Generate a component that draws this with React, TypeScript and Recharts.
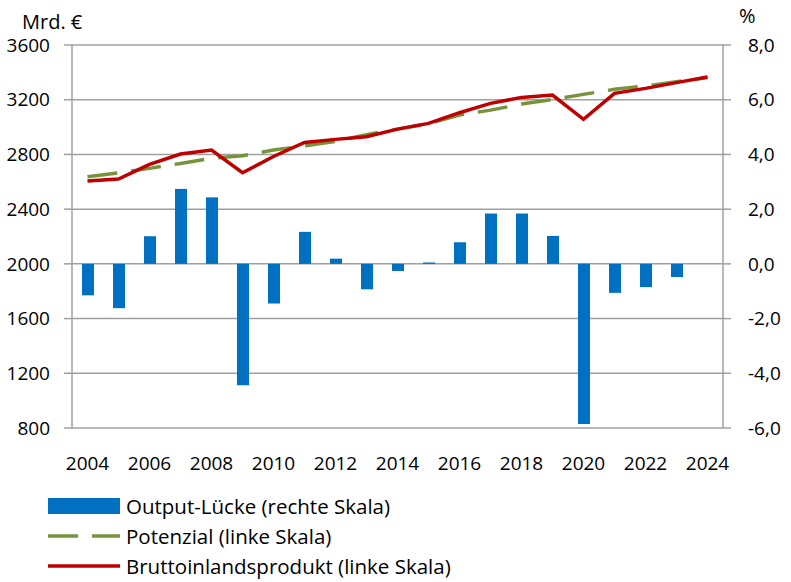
import React from 'react'
import {
  ComposedChart, Bar, Line, XAxis, YAxis, CartesianGrid,
} from 'recharts'

// ── Data ─────────────────────────────────────────────────────────────────────

const YEARS = [
  '2004', '2005', '2006', '2007', '2008', '2009', '2010', '2011', '2012', '2013',
  '2014', '2015', '2016', '2017', '2018', '2019', '2020', '2021', '2022', '2023', '2024',
]

// Output-Lücke in % (rechte Skala)
const OUTPUT_GAP = [
  -1.15, -1.62, 1.01, 2.74, 2.43, -4.44, -1.45, 1.17, 0.19, -0.93,
  -0.26, 0.05, 0.79, 1.84, 1.84, 1.02, -5.85, -1.06, -0.85, -0.48, null,
]

// Potenzial in Mrd. € (linke Skala)
const POTENZIAL = [
  2637, 2666, 2698, 2734, 2771, 2790, 2832, 2863, 2895, 2945,
  2985, 3025, 3088, 3124, 3168, 3202, 3239, 3276, 3300, 3331, 3363,
]

// Bruttoinlandsprodukt in Mrd. € (linke Skala)
const BIP = [
  2605, 2620, 2727, 2803, 2832, 2666, 2785, 2888, 2910, 2929,
  2985, 3027, 3105, 3173, 3217, 3234, 3057, 3247, 3283, 3325, 3366,
]

const LEFT_TICKS = [800, 1200, 1600, 2000, 2400, 2800, 3200, 3600]
const RIGHT_TICKS = [-6, -4, -2, 0, 2, 4, 6, 8]

const data = YEARS.map((year, i) => ({
  year,
  gap: OUTPUT_GAP[i],
  pot: POTENZIAL[i],
  bip: BIP[i],
}))

// category boundaries for the Excel-style tick marks between the years
const EDGES = Array.from({ length: YEARS.length + 1 }, (_, i) => i)

// ── Style ────────────────────────────────────────────────────────────────────

const FONT = '"Open Sans", "Liberation Sans", sans-serif'
const BLUE = '#0070C0'
const GREEN = '#77933C'
const RED = '#C00000'
const GRID = '#A0A0A0'
const TICK = { fill: '#000', fontSize: 19, fontFamily: FONT } as const
const AXIS_LINE = { stroke: GRID, strokeWidth: 1.5 } as const

const fmtPct = (v: number) => v.toFixed(1).replace('.', ',')

// right-hand labels are left aligned, as in the original
function RightTick({ x, y, payload }: any) {
  return (
    <text x={x} y={y} dy="0.355em" textAnchor="start" fill="#000" fontSize={19} fontFamily={FONT}>
      {fmtPct(payload.value)}
    </text>
  )
}

function LegendRow({ kind, label }: { kind: 'bar' | 'dash' | 'line'; label: string }) {
  return (
    <div style={{ display: 'flex', alignItems: 'center', height: 30 }}>
      <svg width={78} height={30} style={{ flex: 'none' }}>
        {kind === 'bar' && <rect x={0} y={7} width={72} height={16} fill={BLUE} />}
        {kind === 'dash' && (
          <line x1={0} y1={15} x2={72} y2={15} stroke={GREEN} strokeWidth={3.5} strokeDasharray="30 14" />
        )}
        {kind === 'line' && <line x1={0} y1={15} x2={72} y2={15} stroke={RED} strokeWidth={3.5} />}
      </svg>
      <span>{label}</span>
    </div>
  )
}

export default function App() {
  return (
    <div style={{ position: 'absolute', left: 0, top: 0, width: 791, height: 582, background: '#fff', fontFamily: FONT }}>
      <ComposedChart width={791} height={582} data={data} margin={{ top: 45, right: 0, left: 0, bottom: 114 }}>
        <CartesianGrid yAxisId="left" horizontal vertical={false} stroke={GRID} strokeWidth={1.5} />
        <XAxis
          xAxisId="edges"
          type="number"
          domain={[0, YEARS.length]}
          ticks={EDGES}
          allowDataOverflow
          height={0}
          tick={false}
          tickSize={8}
          tickLine={AXIS_LINE}
          axisLine={AXIS_LINE}
        />
        <XAxis
          dataKey="year"
          interval={1}
          height={40}
          tick={TICK}
          tickSize={8}
          tickMargin={21}
          tickLine={false}
          axisLine={false}
        />
        <YAxis
          yAxisId="left"
          domain={[800, 3600]}
          ticks={LEFT_TICKS}
          width={72}
          tick={TICK}
          tickSize={8}
          tickMargin={14}
          tickLine={AXIS_LINE}
          axisLine={AXIS_LINE}
        />
        <YAxis
          yAxisId="right"
          orientation="right"
          domain={[-6, 8]}
          ticks={RIGHT_TICKS}
          width={68}
          tick={<RightTick />}
          tickSize={8}
          tickMargin={17}
          tickLine={AXIS_LINE}
          axisLine={AXIS_LINE}
        />
        <Bar yAxisId="right" dataKey="gap" fill={BLUE} barSize={12} isAnimationActive={false} />
        <Line
          yAxisId="left"
          dataKey="pot"
          stroke={GREEN}
          strokeWidth={3.5}
          strokeDasharray="30 14"
          dot={false}
          isAnimationActive={false}
        />
        <Line
          yAxisId="left"
          dataKey="bip"
          stroke={RED}
          strokeWidth={3.5}
          dot={false}
          isAnimationActive={false}
        />
      </ComposedChart>

      <div style={{ position: 'absolute', left: 22, top: 10, fontSize: 20, lineHeight: '24px' }}>Mrd. €</div>
      <div style={{ position: 'absolute', left: 739, top: 4, fontSize: 20, lineHeight: '24px' }}>%</div>

      <div style={{ position: 'absolute', left: 48, top: 491, fontSize: 20.5, lineHeight: '24px' }}>
        <LegendRow kind="bar" label="Output-Lücke (rechte Skala)" />
        <LegendRow kind="dash" label="Potenzial (linke Skala)" />
        <LegendRow kind="line" label="Bruttoinlandsprodukt (linke Skala)" />
      </div>
    </div>
  )
}
